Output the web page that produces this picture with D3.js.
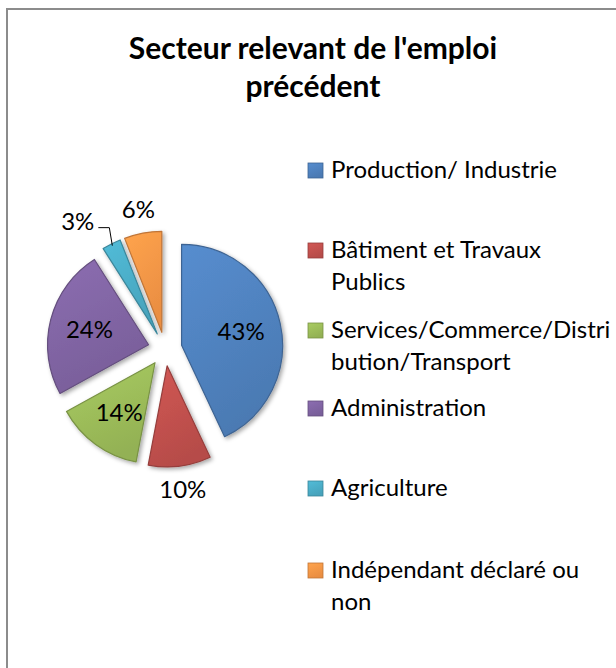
<!DOCTYPE html>
<html>
<head>
<meta charset="utf-8">
<script src="https://cdn.jsdelivr.net/npm/d3@7"></script>
<style>
  body { margin: 0; background: #fff; }
  svg { display: block; font-family: Lato, "Open Sans", sans-serif; }
</style>
</head>
<body>
<div id="chart"></div>
<script>
const titleLines = ["Secteur relevant de l'emploi", "précédent"];
const categories = ["Production/ Industrie", "Bâtiment et Travaux Publics",
  "Services/Commerce/Distribution/Transport", "Administration", "Agriculture",
  "Indépendant déclaré ou non"];
const legendLines = [["Production/ Industrie"], ["Bâtiment et Travaux", "Publics"],
  ["Services/Commerce/Distri", "bution/Transport"], ["Administration"], ["Agriculture"],
  ["Indépendant déclaré ou", "non"]];
const values = [43, 10, 14, 24, 3, 6];
const colors = ["#4f81bd", "#c0504d", "#9bbb59", "#8064a2", "#4bacc6", "#f79646"];

const width = 616, height = 668,
    cx = 165, cy = 349, radius = 101, explode = 17;

const svg = d3.select("#chart").append("svg")
    .attr("width", width)
    .attr("height", height);

// chart area border
svg.append("rect")
    .attr("x", 7).attr("y", 9)
    .attr("width", 640).attr("height", 700)
    .attr("fill", "none")
    .attr("stroke", "#8c8c8c")
    .attr("stroke-width", 2);

const defs = svg.append("defs");
const shadow = defs.append("filter").attr("id", "shadow")
    .attr("x", "-20%").attr("y", "-20%").attr("width", "140%").attr("height", "140%");
shadow.append("feDropShadow")
    .attr("dx", 2).attr("dy", 2).attr("stdDeviation", 2)
    .attr("flood-color", "#000").attr("flood-opacity", 0.35);

colors.forEach((c, i) => {
  const g = defs.append("linearGradient").attr("id", "grad" + i)
      .attr("x1", 0).attr("y1", 0).attr("x2", 0.4).attr("y2", 1);
  g.append("stop").attr("offset", "0%").attr("stop-color", d3.color(c).brighter(0.25));
  g.append("stop").attr("offset", "100%").attr("stop-color", d3.color(c).darker(0.15));
});

svg.append("g")
    .attr("font-weight", "bold")
    .attr("font-size", 30)
    .attr("text-anchor", "middle")
    .selectAll("text")
    .data(titleLines)
    .enter().append("text")
    .attr("x", 313)
    .attr("y", (d, i) => 59 + i * 38)
    .text(d => d);

const pie = d3.pie().sort(null).value(d => d);
const arcs = pie(values);
const arc = d3.arc().innerRadius(0).outerRadius(radius);
const mid = d => (d.startAngle + d.endAngle) / 2;
const dir = d => [Math.sin(mid(d)), -Math.cos(mid(d))];

const pieG = svg.append("g").attr("transform", `translate(${cx},${cy})`);

pieG.selectAll(".slice")
    .data(arcs)
    .enter().append("path")
    .attr("class", "slice")
    .attr("transform", d => `translate(${dir(d)[0] * explode},${dir(d)[1] * explode})`)
    .attr("d", arc)
    .attr("fill", (d, i) => `url(#grad${i})`)
    .attr("stroke", (d, i) => d3.color(colors[i]).darker(0.7))
    .attr("stroke-width", 1.2)
    .attr("stroke-linejoin", "round")
    .attr("filter", "url(#shadow)");

// data labels
const labelR = d => d.value >= 12 ? 78 : (d.value >= 5 ? 142 : null);
const labels = pieG.append("g").attr("font-size", 24).attr("fill", "#000");

labels.selectAll("text")
    .data(arcs.filter(d => labelR(d)))
    .enter().append("text")
    .attr("text-anchor", "middle")
    .attr("dy", "0.35em")
    .attr("x", d => dir(d)[0] * labelR(d))
    .attr("y", d => dir(d)[1] * labelR(d))
    .text(d => d.value + "%");

// small slice with leader line
arcs.filter(d => !labelR(d)).forEach(d => {
  const r0 = radius + explode - 2;
  const p0 = [dir(d)[0] * r0, dir(d)[1] * r0];
  const knee = [p0[0] - 3, p0[1] - 18];
  const end = [knee[0] - 11, knee[1]];
  labels.append("path")
      .attr("d", d3.line()([p0, knee, end]))
      .attr("fill", "none")
      .attr("stroke", "#000")
      .attr("stroke-width", 1);
  labels.append("text")
      .attr("text-anchor", "end")
      .attr("x", end[0] - 4)
      .attr("y", end[1] - 6)
      .attr("dy", "0.35em")
      .text(d.value + "%");
});

// legend
const legendY = [170, 250, 330, 408, 488, 570];
const legend = svg.append("g").attr("font-size", 24);
const item = legend.selectAll(".item")
    .data(categories)
    .enter().append("g")
    .attr("class", "item")
    .attr("transform", (d, i) => `translate(308,${legendY[i]})`);

item.append("rect")
    .attr("x", 0).attr("y", -7)
    .attr("width", 15).attr("height", 15)
    .attr("fill", (d, i) => `url(#grad${i})`)
    .attr("stroke", (d, i) => d3.color(colors[i]).darker(0.7))
    .attr("stroke-width", 0.8);

item.append("text")
    .selectAll("tspan")
    .data((d, i) => legendLines[i])
    .enter().append("tspan")
    .attr("x", 23)
    .attr("y", (d, j) => j * 32)
    .attr("dy", "0.35em")
    .text(d => d);
</script>
</body>
</html>
